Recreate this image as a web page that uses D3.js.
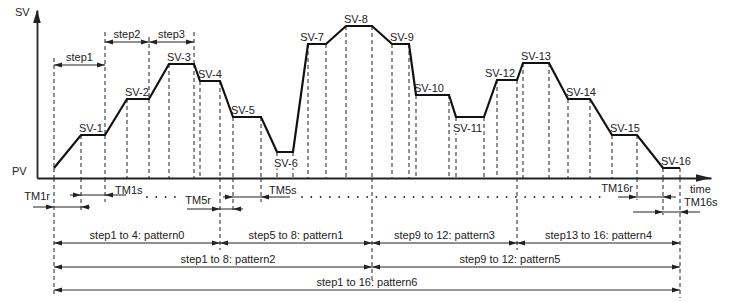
<!DOCTYPE html>
<html>
<head>
<meta charset="utf-8">
<script src="https://cdn.jsdelivr.net/npm/d3@7"></script>
<style>
    body { margin: 0; background: #fff; }
    svg text { font-family: "Liberation Sans", Arial, sans-serif; font-size: 11px; fill: #222; }
</style>
</head>
<body>
<div id="chart"></div>
<script>
// set values of the 16 program steps (PV is where the program starts)
const svNames = ["SV-1", "SV-2", "SV-3", "SV-4", "SV-5", "SV-6", "SV-7", "SV-8",
                 "SV-9", "SV-10", "SV-11", "SV-12", "SV-13", "SV-14", "SV-15", "SV-16"];
const svValues = [43, 79, 114, 97, 61, 26, 134, 152, 134, 83, 61, 98, 115, 79, 43, 10];
const pvValue = 10;

// time where the program starts, where each ramp ends and where each step ends
const startTime = 17;
const rampEnd = [44, 90, 132, 163, 196, 240, 271, 309, 355, 379, 419, 460, 486, 531, 575, 626];
const stepEnd = [68, 112, 157, 183, 224, 256, 289, 335, 372, 412, 447, 480, 512, 553, 600, 643];

// step markers above the curve
const stepMarks = [1, 2, 3];

// ramp (r) / soak (s) time markers
const tmSteps = [1, 1, 5, 5, 16, 16];
const tmKinds = ["r", "s", "r", "s", "r", "s"];

// pattern spans
const patternLabels = ["step1 to 4: pattern0", "step5 to 8: pattern1", "step9 to 12: pattern3",
                       "step13 to 16: pattern4", "step1 to 8: pattern2", "step9 to 12: pattern5",
                       "step1 to 16: pattern6"];
const patternFrom = [1, 5, 9, 13, 1, 9, 1];
const patternTo = [4, 8, 12, 16, 8, 16, 16];

const stepStartT = n => n === 1 ? startTime : stepEnd[n - 2];
const rampEndT = n => rampEnd[n - 1];
const stepEndT = n => stepEnd[n - 1];

let width = 730, height = 302;
let ink = "#222";

let svg = d3.select("#chart").append("svg")
    .attr("width", width)
    .attr("height", height);

let x = d3.scaleLinear().domain([0, 674]).range([37, 711]);
let y = d3.scaleLinear().domain([0, 168]).range([178, 10]);

function head(g, tipX, yy, dir, color) {
    g.append("path")
        .attr("d", `M${tipX},${yy}L${tipX - 8 * dir},${yy - 2.6}L${tipX - 8 * dir},${yy + 2.6}Z`)
        .attr("fill", color || ink);
}

function vdash(t, y1, y2) {
    svg.append("line")
        .attr("x1", x(t)).attr("x2", x(t))
        .attr("y1", y1).attr("y2", y2)
        .attr("stroke", ink)
        .attr("stroke-width", 1)
        .attr("stroke-dasharray", "4,3");
}

// dashed guides from the curve down to the time axis
vdash(startTime, y(pvValue), y(0));
svValues.forEach((v, i) => {
    vdash(rampEnd[i], y(v), y(0));
    vdash(stepEnd[i], y(v), y(0));
});

// guides above the curve for the step markers
let stepRowY = { 1: 65, 2: 42, 3: 42 };
let guideTop = { 1: 58, 2: 32, 3: 37, 4: 32 };
vdash(startTime, guideTop[1], y(pvValue));
vdash(stepEndT(1), guideTop[2], y(svValues[0]));
vdash(stepEndT(2), guideTop[3], y(svValues[1]));
vdash(stepEndT(3), guideTop[4], y(svValues[2]));

// guides below the axis
let below = [
    [startTime, 295], [rampEndT(1), 213], [stepEndT(1), 202],
    [stepEndT(4), 250], [rampEndT(5), 213], [stepEndT(5), 202],
    [stepEndT(8), 282], [stepEndT(12), 250],
    [stepStartT(16), 200], [rampEndT(16), 215], [stepEndT(16), 298]
];
below.forEach(d => vdash(d[0], y(0), d[1]));

// axes, no ticks, with arrow heads
svg.append("g")
    .attr("transform", `translate(0,${y(0)})`)
    .call(d3.axisBottom(x).tickValues([]).tickSizeOuter(0))
    .select(".domain").attr("stroke", ink).attr("stroke-width", 1.8);

svg.append("g")
    .attr("transform", `translate(${x(0)},0)`)
    .call(d3.axisLeft(y).tickValues([]).tickSizeOuter(0))
    .select(".domain").attr("stroke", ink).attr("stroke-width", 1.8);

svg.append("path")
    .attr("d", `M${x(674)},${y(0)}L${x(674) - 15},${y(0) - 3.8}L${x(674) - 15},${y(0) + 3.8}Z`)
    .attr("fill", ink);
svg.append("path")
    .attr("d", `M${x(0)},${y(168)}L${x(0) - 3.8},${y(168) + 13}L${x(0) + 3.8},${y(168) + 13}Z`)
    .attr("fill", ink);

svg.append("text").attr("x", 15).attr("y", 16).text("SV");
svg.append("text").attr("x", 12).attr("y", 175).text("PV");
svg.append("text").attr("x", 690).attr("y", 193).text("time");

// program curve
let pts = [[startTime, pvValue]];
svValues.forEach((v, i) => {
    pts.push([rampEnd[i], v]);
    pts.push([stepEnd[i], v]);
});

let line = d3.line()
    .x(d => x(d[0]))
    .y(d => y(d[1]));

svg.append("path")
    .datum(pts)
    .attr("fill", "none")
    .attr("stroke", "#111")
    .attr("stroke-width", 2.2)
    .attr("stroke-linejoin", "miter")
    .attr("d", line);

// SV labels
let belowLabels = ["SV-6", "SV-11"];
let endLabels = ["SV-7", "SV-12"];
svValues.forEach((v, i) => {
    let name = svNames[i];
    let t = svg.append("text").text(name);
    if (belowLabels.includes(name)) {
        t.attr("x", x(rampEnd[i]) - 3).attr("y", y(v) + 15)
            .attr("stroke", "#fff").attr("stroke-width", 3).attr("paint-order", "stroke");
    } else if (endLabels.includes(name)) {
        t.attr("x", x(stepEnd[i]) - 2).attr("y", y(v) - 3).attr("text-anchor", "end");
    } else {
        t.attr("x", x(rampEnd[i]) - 2).attr("y", y(v) - 3);
    }
});

// step markers
stepMarks.forEach(n => {
    let a = x(stepStartT(n)), b = x(stepEndT(n)), yy = stepRowY[n];
    svg.append("line").attr("x1", a).attr("x2", b).attr("y1", yy).attr("y2", yy)
        .attr("stroke", ink).attr("stroke-width", 1.1);
    head(svg, a, yy, -1);
    head(svg, b, yy, 1);
    svg.append("text").attr("x", (a + b) / 2).attr("y", yy - 4)
        .attr("text-anchor", "middle").text("step" + n);
});

// dotted line between the time markers
[[147, 180], [302, 600]].forEach(d => {
    svg.append("line").attr("x1", d[0]).attr("x2", d[1]).attr("y1", 197).attr("y2", 197)
        .attr("stroke", ink).attr("stroke-width", 1.8)
        .attr("stroke-linecap", "round").attr("stroke-dasharray", "0,9.3");
});

// ramp / soak time markers (arrows point inward from outside)
let tmLayout = [
    { y: 207, left: 21, right: 9, lx: -4, ly: 200, anchor: "end", at: "from" },
    { y: 195, left: 11, right: 21, lx: 10, ly: 194, anchor: "start", at: "to" },
    { y: 209, left: 33, right: 10, lx: -9, ly: 204, anchor: "end", at: "from" },
    { y: 197, left: 10, right: 29, lx: 8, ly: 194, anchor: "start", at: "to" },
    { y: 197, left: 19, right: 13, lx: -4, ly: 192, anchor: "end", at: "from" },
    { y: 212, left: 30, right: 20, lx: 4, ly: 206, anchor: "start", at: "to" }
];
tmSteps.forEach((n, i) => {
    let from = tmKinds[i] === "r" ? stepStartT(n) : rampEndT(n);
    let to = tmKinds[i] === "r" ? rampEndT(n) : stepEndT(n);
    let L = tmLayout[i], a = x(from), b = x(to);
    svg.append("line").attr("x1", a - L.left).attr("x2", b + L.right)
        .attr("y1", L.y).attr("y2", L.y)
        .attr("stroke", ink).attr("stroke-width", 1.1);
    head(svg, a, L.y, 1);
    head(svg, b, L.y, -1);
    svg.append("text")
        .attr("x", (L.at === "from" ? a : b) + L.lx)
        .attr("y", L.ly)
        .attr("text-anchor", L.anchor)
        .text("TM" + n + tmKinds[i]);
});

// pattern spans
let rowY = [243, 267, 290];
patternLabels.forEach((label, i) => {
    let a = x(stepStartT(patternFrom[i])), b = x(stepEndT(patternTo[i]));
    let span = patternTo[i] - patternFrom[i] + 1;
    let row = span === 4 ? 0 : span === 8 ? 1 : 2;
    let col = row === 2 ? "#777" : "#222";
    let yy = rowY[row];
    let dx = row === 1 ? (patternFrom[i] === 1 ? 15 : -16) : 0;
    svg.append("line").attr("x1", a).attr("x2", b).attr("y1", yy).attr("y2", yy)
        .attr("stroke", col).attr("stroke-width", row === 2 ? 1.6 : 1.1);
    head(svg, a, yy, -1, ink);
    head(svg, b, yy, 1, ink);
    svg.append("text").attr("x", (a + b) / 2 + dx).attr("y", yy - 4)
        .attr("text-anchor", "middle").text(label);
});
</script>
</body>
</html>
